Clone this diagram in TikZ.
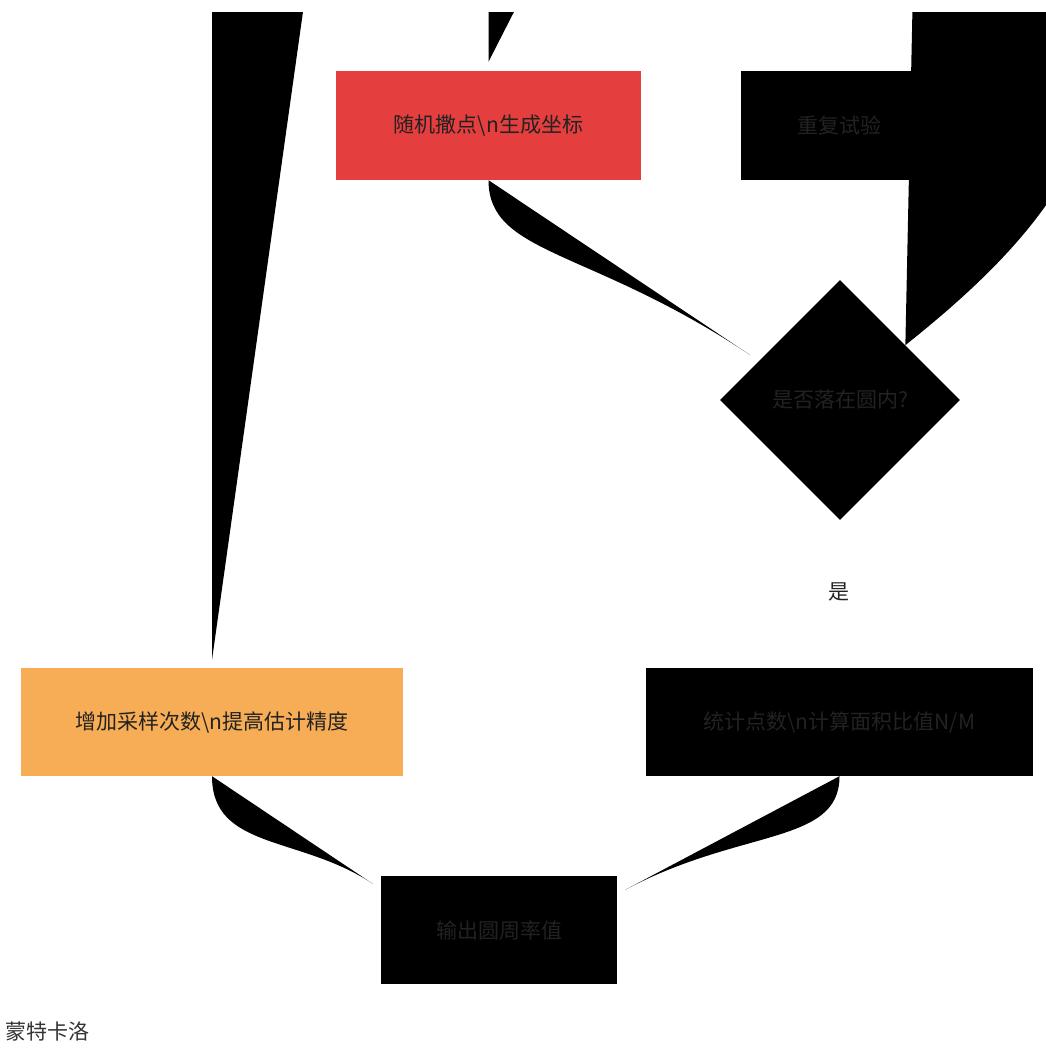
\documentclass[tikz,border=0pt]{standalone}
\usepackage{fontspec}
\setmainfont{Noto Sans CJK SC}
\usepackage{tikz}
\usetikzlibrary{calc,shapes.geometric}
\definecolor{ink}{HTML}{222222}
\definecolor{note}{HTML}{333333}
\definecolor{warn}{HTML}{E53E3E}
\definecolor{amber}{HTML}{F6AD55}

\begin{document}
\begin{tikzpicture}[x=1pt,y=-1pt,
  txt/.style={inner sep=0pt,text=ink,font=\fontsize{21}{25}\selectfont},
  box/.style={txt,minimum height=109pt}]
\useasboundingbox (0,0) rectangle (1046,1053);

\node[box,fill=warn,minimum width=305pt] (s) at (488.5,125.5) {随机撒点\textbackslash{}n生成坐标};
\node[box,fill=black,minimum width=196pt] (e) at (839,125.5) {重复试验};
\node[txt,diamond,fill=black,minimum width=240pt,minimum height=240pt] (d) at (840,400) {是否落在圆内?};
\node[txt] (y) at (839,592) {是};
\node[box,fill=amber,minimum width=382pt,minimum height=108pt] (o) at (212,722) {增加采样次数\textbackslash{}n提高估计精度};
\node[box,fill=black,minimum width=387pt,minimum height=108pt] (k) at (839.5,722) {统计点数\textbackslash{}n计算面积比值N/M};
\node[box,fill=black,minimum width=236pt,minimum height=108pt] (f) at (499,930) {输出圆周率值};
\node[txt,text=note,anchor=west] (t) at (5,1032) {蒙特卡洛};

% free ends above the page
\coordinate (topL) at (363.6,-420);
\coordinate (topM) at (571,-100);
\coordinate (topR) at (919,-300);

\begin{scope}
\clip (0,12) rectangle (1046,1053);
\fill (topL) .. controls (212,-420) .. (212,-150) -- ($(o.north)+(0,-8)$);
\fill (topM) .. controls (488.5,-100) .. (488.5,-20) -- ($(s.north)+(0,-9)$);
\fill (s.south) .. controls (488.5,255) and (590,248) .. ($(d.north west)+(-30,15)$);
\fill (d.40) .. controls (1100,190) and (1220,20) .. (topR);
\fill (o.south) .. controls (212,850) and (300.5,835.4) .. ($(f.north west)+(-8,8)$);
\fill (k.south) .. controls (839.5,845) and (741,828) .. ($(f.north east)+(8,14)$);
\end{scope}
\end{tikzpicture}
\end{document}
